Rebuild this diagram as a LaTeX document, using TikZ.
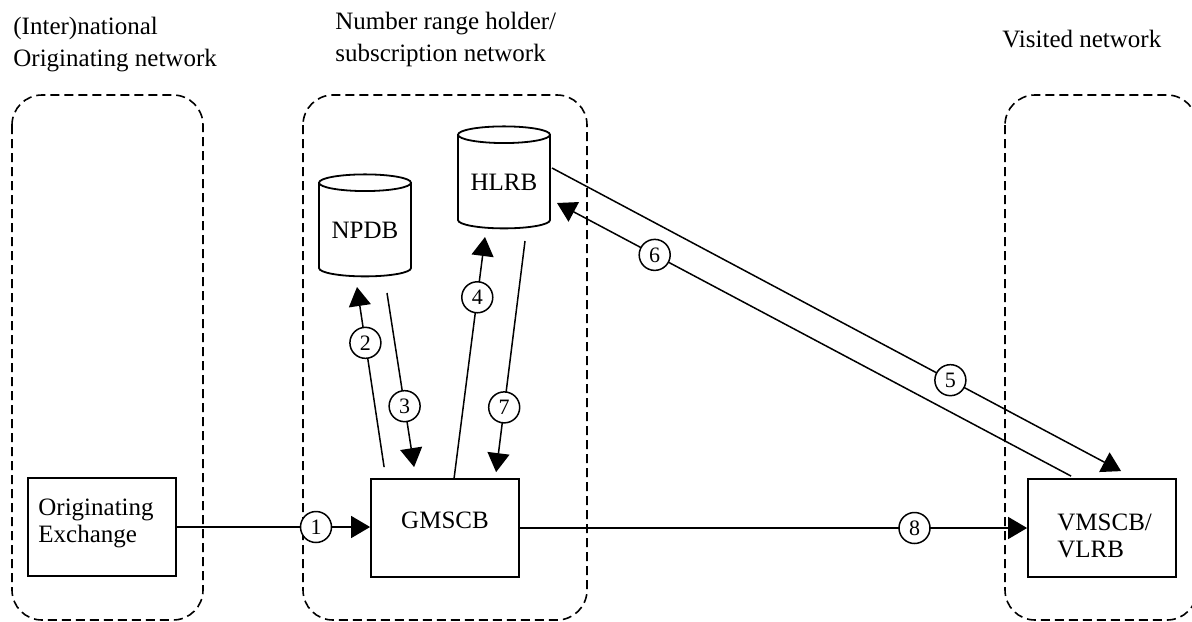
\documentclass[tikz,border=0pt]{standalone}
\usepackage{fontspec}
\setmainfont{Liberation Serif}
\usepackage{tikz}
\usetikzlibrary{shapes, shapes.geometric, positioning, arrows.meta, calc}

\begin{document}
\begin{tikzpicture}[x=0.5pt, y=-0.5pt,
  area/.style={draw, dash pattern=on 4.5pt off 2.5pt, line width=0.8pt, rounded corners=15pt},
  box/.style={draw, line width=0.9pt, minimum width=74pt, minimum height=49pt, inner sep=0pt},
  db/.style={draw, fill=white, line width=0.9pt, cylinder, shape border rotate=90, aspect=0.25,
    minimum width=46pt, minimum height=51pt, inner sep=0pt, font=\fontsize{12.5}{15}\selectfont},
  conn/.style={line width=0.75pt, -{Triangle[length=9.5pt, width=11pt]}},
  num/.style={circle, draw, fill=white, line width=0.75pt, minimum size=15.5pt, inner sep=0pt,
    font=\fontsize{11}{12}\selectfont},
  txt/.style={inner sep=0pt, align=left, font=\fontsize{12.5}{13.5}\selectfont},
  title/.style={inner sep=0pt, align=left, font=\fontsize{12.5}{15.75}\selectfont}]

\useasboundingbox (0,0) rectangle (1192,621);

% Network areas
\draw[area] (12,95) rectangle (203,620);
\draw[area] (303,95) rectangle (587,620);
\draw[area] (1005,95) rectangle (1197,620);

% Titles of the networks
\node[title, anchor=north west] (orignet) at (13,17) {(Inter)national\\Originating network};
\node[title, anchor=north west] (homenet) at (335,12) {Number range holder/\\subscription network};
\node[title, anchor=base west] (visitnet) at (1002,47) {Visited network};

% Exchanges
\node[box] (orig) at (102,527) {};
\node[txt, anchor=north west] (origtxt) at (38,499) {Originating\\Exchange};

\node[box] (gmscb) at (445,528) {};
\node[txt, anchor=north] (gmscbtxt) at (445,512) {GMSCB};

\node[box] (vmscb) at (1102,528) {};
\node[txt, anchor=north west] (vmscbtxt) at (1057,514) {VMSCB/\\VLRB};

% Databases
\node[db] (npdb) at (365,230) {NPDB};
\node[db] (hlrb) at (504,182) {HLRB};

% Signalling steps
\draw[conn] (orig.east) -- node[num, pos=0.72] (c1) {1} (orig.east -| gmscb.west);
\draw[conn] ($(gmscb.north west)+(14,-11)$) -- node[num, pos=0.69] (c2) {2} ($(npdb.center)+(-8,57)$);
\draw[conn] ($(npdb.center)+(22,63)$) -- node[num, pos=0.65] (c3) {3} ($(gmscb.north west)+(44,-11)$);
\draw[conn] ($(gmscb.north west)+(84,0)$) -- node[num, pos=0.75] (c4) {4} ($(hlrb.center)+(-19,55)$);
\draw[conn] ($(hlrb.center)+(48,-14)$) -- node[num, pos=0.70] (c5) {5} ($(vmscb.north west)+(94,-7)$);
\draw[conn] ($(vmscb.north west)+(44,-2)$) -- node[num, pos=0.81] (c6) {6} ($(hlrb.center)+(53,21)$);
\draw[conn] ($(hlrb.center)+(21,59)$) -- node[num, pos=0.72] (c7) {7} ($(gmscb.north west)+(126,-6)$);
\draw[conn] (gmscb.east) -- node[num, pos=0.778] (c8) {8} (gmscb.east -| vmscb.west);

\end{tikzpicture}
\end{document}
